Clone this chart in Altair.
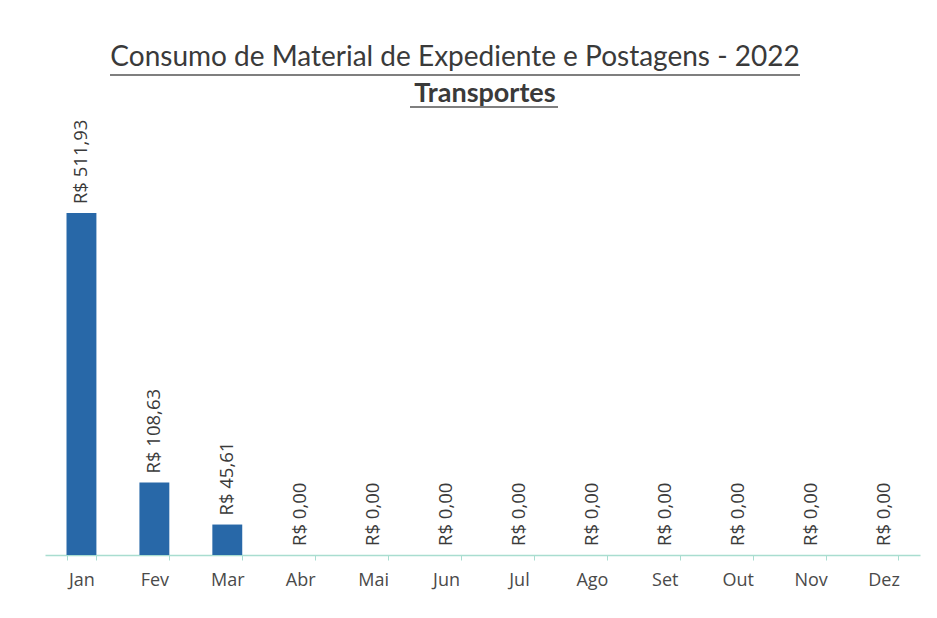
import altair as alt
import pandas as pd

months = ["Jan", "Fev", "Mar", "Abr", "Mai", "Jun", "Jul", "Ago", "Set", "Out", "Nov", "Dez"]
values = [511.93, 108.63, 45.61, 0, 0, 0, 0, 0, 0, 0, 0, 0]

title_text = "Consumo de Material de Expediente e Postagens - 2022"
subtitle_text = "Transportes"


def brl(v):
    s = f"{v:,.2f}".replace(",", "X").replace(".", ",").replace("X", ".")
    return f"R$ {s}"


df = pd.DataFrame({"mes": months, "valor": values, "rotulo": [brl(v) for v in values]})

FONT = "Lato"
LFONT = "Open Sans"
W, H = 875, 535

x = alt.X("mes:N", sort=months, title=None,
          scale=alt.Scale(paddingInner=0.59, paddingOuter=0.295),
          axis=alt.Axis(labelAngle=0, labelFontSize=18, labelColor="#4a4a4a", labelFont=LFONT,
                        labelPadding=11, domainColor="#a9ddd0", domainWidth=1.5,
                        tickColor="#a9ddd0", tickSize=5, tickBand="extent", grid=False))
y = alt.Y("valor:Q", title=None, scale=alt.Scale(domain=[0, 801], nice=False), axis=None)

bars = alt.Chart(df).mark_bar(color="#2868a8").encode(x=x, y=y)

labels = alt.Chart(df).mark_text(angle=270, align="left", baseline="middle", dx=9,
                                 fontSize=18.5, font=LFONT, color="#3a3a3a").encode(
    x=alt.X("mes:N", sort=months), y="valor:Q", text="rotulo:N")

t_df = pd.DataFrame({"t": [title_text]})
s_df = pd.DataFrame({"t": [subtitle_text]})

title = alt.Chart(t_df).mark_text(fontSize=28, font=FONT, color="#3a3a3a", align="center",
                                  baseline="middle").encode(
    text="t:N", x=alt.value(410), y=alt.value(38))
subtitle = alt.Chart(s_df).mark_text(fontSize=27, font=FONT, fontWeight="bold", color="#3a3a3a",
                                     align="center", baseline="middle").encode(
    text="t:N", x=alt.value(440), y=alt.value(74))

ul1 = alt.Chart(t_df).mark_rule(color="#555555", strokeWidth=1.5).encode(
    x=alt.value(65), x2=alt.value(755), y=alt.value(55))
ul2 = alt.Chart(s_df).mark_rule(color="#555555", strokeWidth=1.5).encode(
    x=alt.value(365), x2=alt.value(513), y=alt.value(87))

chart = alt.layer(bars, labels, title, subtitle, ul1, ul2).properties(
    width=W, height=H,
    padding={"left": 45, "top": 20, "right": 17, "bottom": 63},
    background="white",
).configure_view(stroke=None)

chart.save("out.html", embed_options={"renderer": "svg", "actions": False})
